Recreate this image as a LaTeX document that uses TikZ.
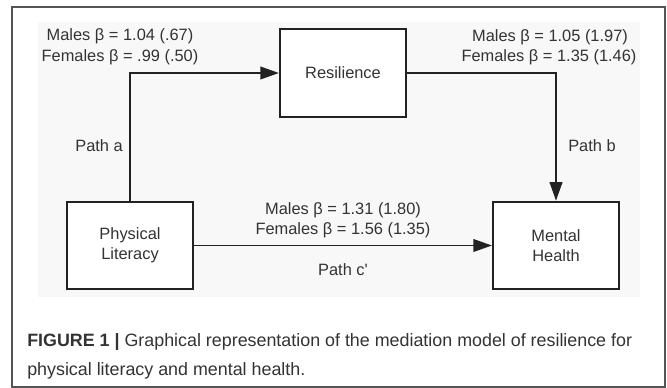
\documentclass[tikz,border=0pt]{standalone}
\usepackage{fontspec}
\setmainfont{Liberation Sans}[Ligatures=TeXOff]
\usetikzlibrary{arrows.meta}
\definecolor{txt}{HTML}{333333}
\definecolor{ln}{HTML}{222222}
\definecolor{bgg}{HTML}{F8F8F8}
\definecolor{frm}{HTML}{555555}
\begin{document}
\begin{tikzpicture}[x=0.75pt,y=-0.75pt,
  box/.style={draw=ln,line width=1.6pt,fill=white,minimum width=94.5pt,minimum height=65.5pt,inner sep=0pt,align=center,text=txt,font=\fontsize{12.3}{15}\selectfont},
  lbl/.style={inner sep=0pt,text=txt,font=\fontsize{12.3}{15}\selectfont},
  captxt/.style={inner sep=0pt,text=txt,font=\fontsize{13.4}{16}\selectfont},
  arr/.style={draw=ln,line width=1.4pt,-{Triangle[length=14pt,width=9.5pt]}}]
\useasboundingbox (0,0) rectangle (667,388);
\fill[white] (0,0) rectangle (667,388);
\draw[frm,line width=1.2pt] (12,7) rectangle (665,387);
\fill[bgg] (38,22) rectangle (640,297);
% boxes
\node[box] (res) at (343,73) {\raisebox{-2pt}{Resilience}};
\node[box] (pl) at (130,245.5) {Physical\\Literacy};
\node[box] (mh) at (556,245.5) {Mental\\Health};
% connectors
\draw[arr] (pl.north) -- (pl.north |- res.west) -- (res.west);
\draw[arr] (res.east) -- (mh.north |- res.east) -- (mh.north);
\draw[arr] (pl.east) -- (mh.west);
% labels
\node[lbl] (la1) at (120,36) {Males β = 1.04 (.67)};
\node[lbl] (la2) at (120,57) {Females β = .99 (.50)};
\node[lbl] (lb1) at (550,37) {Males β = 1.05 (1.97)};
\node[lbl] (lb2) at (549,57) {Females β = 1.35 (1.46)};
\node[lbl,anchor=east] (pa) at (123,146) {Path a};
\node[lbl,anchor=west] (pb) at (568,146) {Path b};
\node[lbl] (lc1) at (343,210) {Males β = 1.31 (1.80)};
\node[lbl] (lc2) at (343,230) {Females β = 1.56 (1.35)};
\node[lbl] (pc) at (343,270) {Path c'};
% caption
\node[captxt,anchor=base west] (cap1) at (27,346) {\textbf{FIGURE 1 |} Graphical representation of the mediation model of resilience for};
\node[captxt,anchor=base west] (cap2) at (27,375) {physical literacy and mental health.};
\end{tikzpicture}
\end{document}
